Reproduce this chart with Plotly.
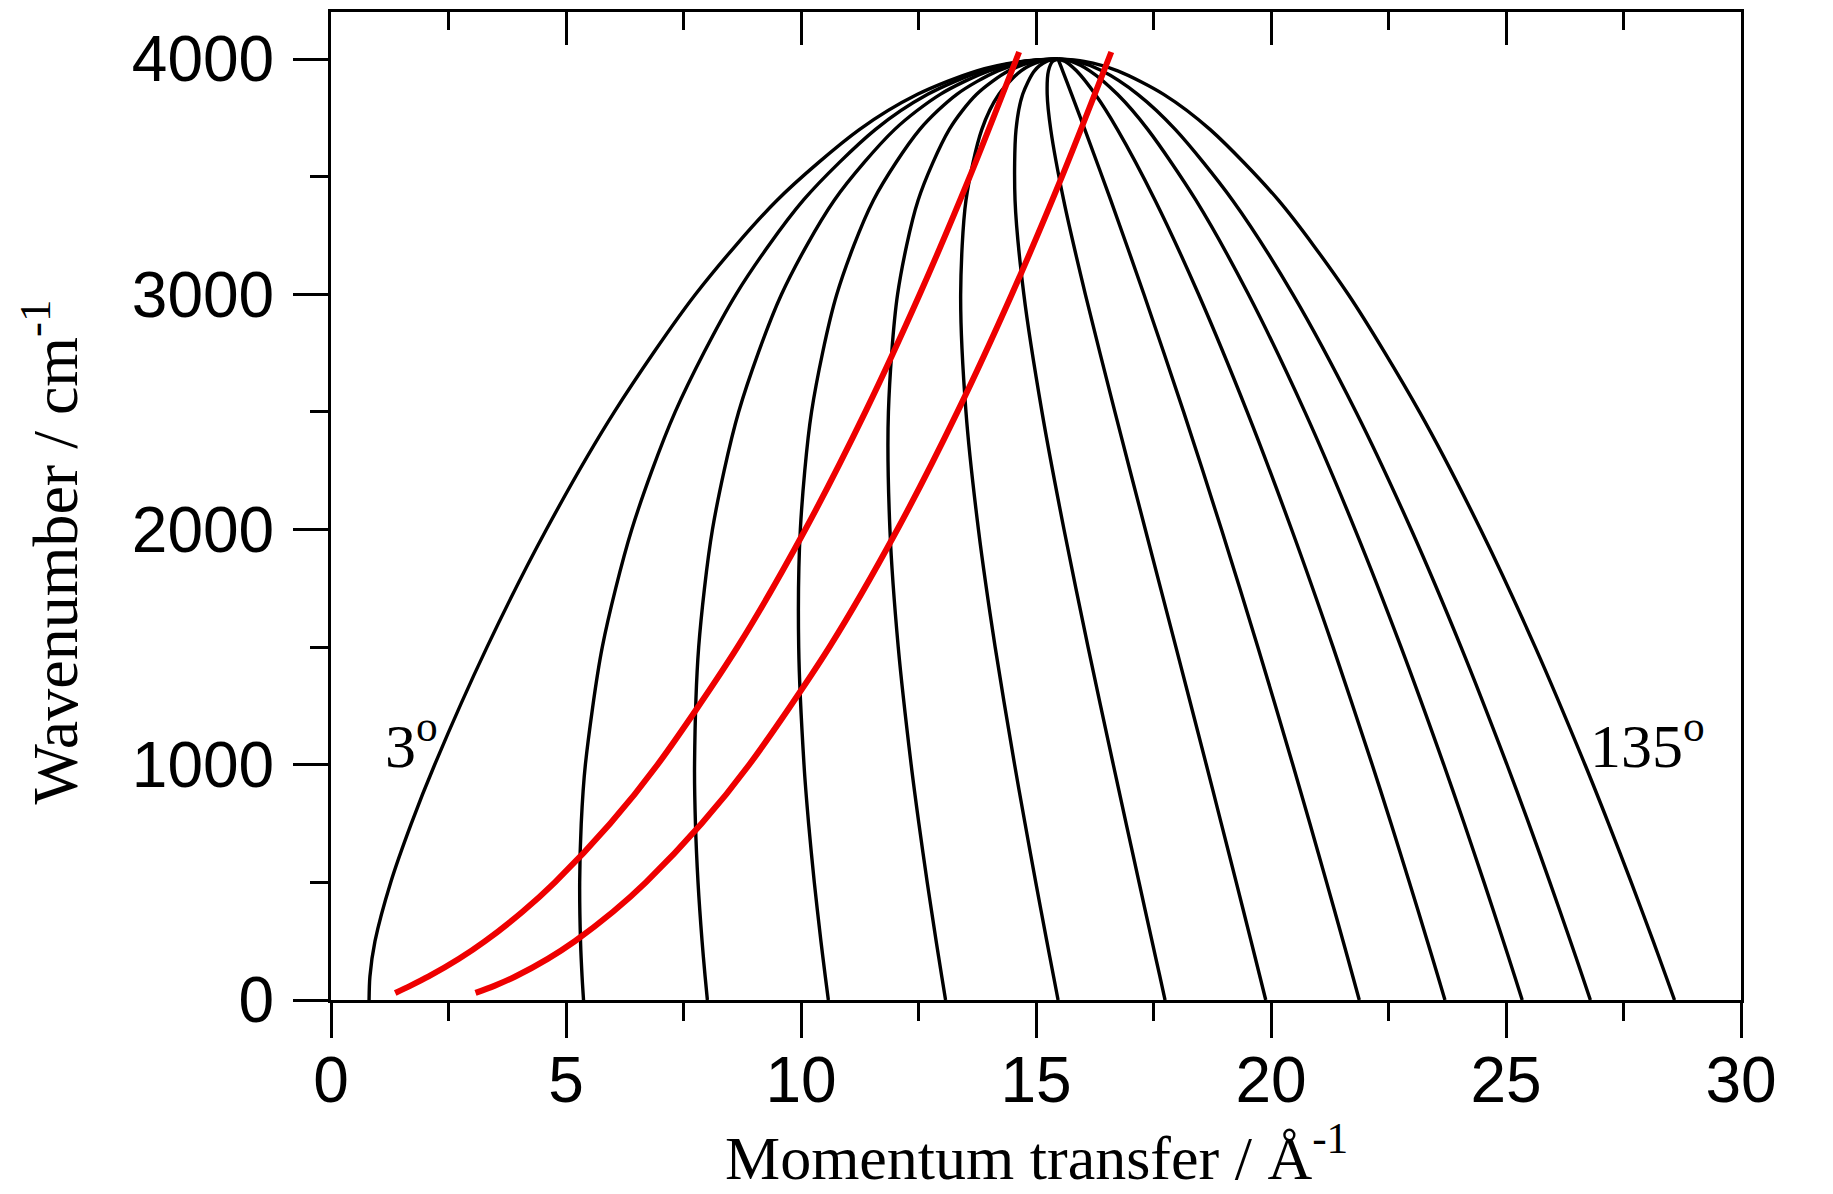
import plotly.graph_objects as go

# Wavenumber levels (cm^-1) at which the constant-angle curves were read
omega = [0, 100, 250, 500, 750, 1000, 1500, 2000, 2500, 3000, 3400, 3700, 3850, 3950, 3990, 4000]

# Momentum transfer (1/Å) of each constant-scattering-angle curve
q_3 = [0.810, 0.828, 0.936, 1.270, 1.708, 2.205, 3.319, 4.582, 6.029, 7.756, 9.491, 11.241, 12.479, 13.743, 14.698, 15.47]
q_20 = [5.373, 5.342, 5.309, 5.291, 5.324, 5.412, 5.772, 6.399, 7.323, 8.618, 10.050, 11.580, 12.696, 13.857, 14.746, 15.47]
q_30 = [8.008, 7.960, 7.895, 7.809, 7.754, 7.735, 7.823, 8.116, 8.673, 9.586, 10.708, 11.989, 12.962, 13.999, 14.805, 15.47]
q_40 = [10.582, 10.517, 10.424, 10.283, 10.162, 10.064, 9.951, 9.986, 10.224, 10.762, 11.541, 12.524, 13.315, 14.188, 14.886, 15.47]
q_50 = [13.076, 12.995, 12.876, 12.686, 12.508, 12.344, 12.069, 11.892, 11.860, 12.055, 12.492, 13.153, 13.737, 14.419, 14.985, 15.47]
q_60 = [15.470, 15.374, 15.230, 14.995, 14.767, 14.545, 14.131, 13.775, 13.510, 13.397, 13.510, 13.846, 14.211, 14.682, 15.098, 15.47]
q_70 = [17.746, 17.636, 17.469, 17.193, 16.918, 16.645, 16.108, 15.596, 15.127, 14.741, 14.554, 14.575, 14.717, 14.967, 15.223, 15.47]
q_80 = [19.888, 19.764, 19.576, 19.261, 18.943, 18.624, 17.977, 17.326, 16.679, 16.050, 15.589, 15.314, 15.238, 15.265, 15.355, 15.47]
q_90 = [21.878, 21.741, 21.534, 21.183, 20.827, 20.465, 19.721, 18.947, 18.141, 17.296, 16.590, 16.040, 15.758, 15.567, 15.489, 15.47]
q_100 = [23.701, 23.553, 23.327, 22.945, 22.554, 22.154, 21.321, 20.439, 19.493, 18.458, 17.533, 16.734, 16.260, 15.862, 15.623, 15.47]
q_110 = [25.345, 25.186, 24.944, 24.533, 24.111, 23.677, 22.767, 21.789, 20.721, 19.519, 18.402, 17.381, 16.733, 16.144, 15.751, 15.47]
q_120 = [26.795, 26.627, 26.371, 25.934, 25.486, 25.022, 24.044, 22.983, 21.809, 20.465, 19.181, 17.967, 17.165, 16.404, 15.871, 15.47]
q_135 = [28.585, 28.405, 28.132, 27.665, 27.182, 26.682, 25.622, 24.460, 23.159, 21.642, 20.157, 18.707, 17.716, 16.738, 16.026, 15.47]

angle_curves = [q_3, q_20, q_30, q_40, q_50, q_60, q_70, q_80, q_90, q_100, q_110, q_120, q_135]

# Red trajectories
omega_red = [30, 60, 100, 175, 250, 375, 500, 750, 1000, 1500, 2000, 2500, 3000, 3500, 4030]
q_red_low = [1.366, 1.684, 2.078, 2.723, 3.278, 4.074, 4.763, 5.941, 6.946, 8.648, 10.092, 11.369, 12.526, 13.591, 14.641]
q_red_high = [3.075, 3.475, 3.922, 4.611, 5.187, 6.001, 6.699, 7.886, 8.897, 10.604, 12.050, 13.328, 14.486, 15.552, 16.602]

# Axis ticks
x_ticks = [0, 5, 10, 15, 20, 25, 30]
y_ticks = [0, 1000, 2000, 3000, 4000]

# Curve labels
label_text = ["3<sup>o</sup>", "135<sup>o</sup>"]
label_x = [1.72, 28.0]
label_y = [1100, 1100]

fig = go.Figure()

for q in angle_curves:
    fig.add_trace(go.Scatter(x=q, y=omega, mode="lines",
                             line=dict(color="black", width=3.4, shape="spline", smoothing=0.8),
                             showlegend=False, hoverinfo="skip"))

for q in (q_red_low, q_red_high):
    fig.add_trace(go.Scatter(x=q, y=omega_red, mode="lines",
                             line=dict(color="#ee0000", width=6, shape="spline", smoothing=0.8),
                             showlegend=False, hoverinfo="skip"))

# invisible trace for the top axis
fig.add_trace(go.Scatter(x=[0, 30], y=[0, 0], xaxis="x2", mode="lines",
                         line=dict(width=0), opacity=0, showlegend=False, hoverinfo="skip"))

serif = "Liberation Serif, Times New Roman, serif"
for t, xx, yy in zip(label_text, label_x, label_y):
    fig.add_annotation(x=xx, y=yy, text=t, showarrow=False,
                       font=dict(family=serif, size=62, color="black"))

# axis titles
fig.add_annotation(x=0.5, y=-0.155, xref="paper", yref="paper", xanchor="center", yanchor="middle",
                   text="Momentum transfer / Å<sup>-1</sup>", showarrow=False,
                   font=dict(family=serif, size=62, color="black"))
fig.add_annotation(x=-0.199, y=0.4534, xref="paper", yref="paper", xanchor="center", yanchor="middle",
                   text="Wavenumber / cm<sup>-1</sup>", textangle=-90, showarrow=False,
                   font=dict(family=serif, size=64, color="black"))

tick_font = dict(family="Liberation Sans, Arial, sans-serif", size=64, color="black")

fig.update_layout(
    width=1833, height=1194,
    margin=dict(l=331, r=92, t=12, b=194),
    paper_bgcolor="white", plot_bgcolor="white",
    xaxis=dict(range=[0, 30], tickvals=x_ticks, ticks="outside", ticklen=35, tickwidth=3,
               tickcolor="black", showline=True, linewidth=3, linecolor="black",
               showgrid=False, zeroline=False, tickfont=tick_font, automargin=False,
               minor=dict(dtick=2.5, tick0=0, ticks="outside", ticklen=18, tickwidth=3, tickcolor="black"),
               ticklabelstandoff=-13),
    xaxis2=dict(range=[0, 30], overlaying="x", side="top", tickvals=x_ticks, ticks="inside",
                ticklen=33, tickwidth=3, tickcolor="black", showline=True, linewidth=3,
                linecolor="black", showgrid=False, zeroline=False, showticklabels=False,
                automargin=False,
                minor=dict(dtick=2.5, tick0=0, ticks="inside", ticklen=18, tickwidth=3, tickcolor="black")),
    yaxis=dict(range=[0, 4200], tickvals=y_ticks, ticks="outside", ticklen=35, tickwidth=3,
               tickcolor="black", showline=True, linewidth=3, linecolor="black", mirror=True,
               showgrid=False, zeroline=False, tickfont=tick_font, automargin=False,
               minor=dict(dtick=500, tick0=0, ticks="outside", ticklen=18, tickwidth=3, tickcolor="black"),
               ticklabelstandoff=6),
)

fig.write_html("out.html")
